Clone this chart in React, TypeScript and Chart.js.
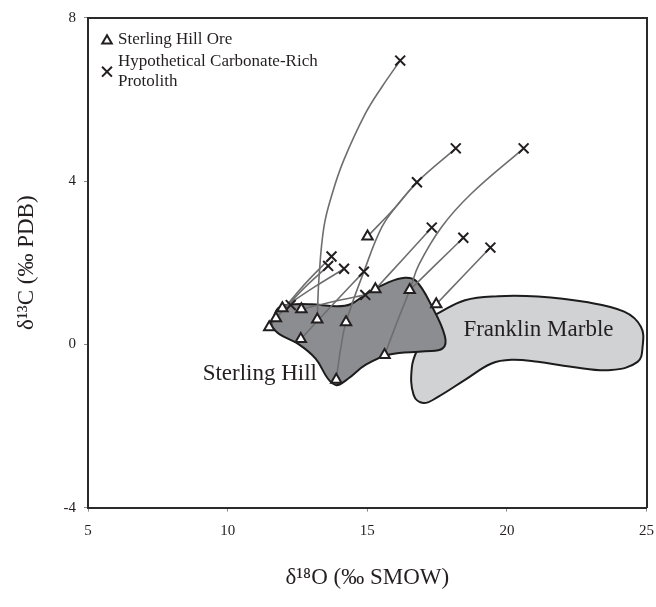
import React, { useEffect, useRef } from 'react';
import { Chart, registerables } from 'chart.js';

Chart.register(...registerables);

// ---- axis ticks ----
const xTickValues = [5, 10, 15, 20, 25];
const yTickValues = [-4, 0, 4, 8];

// ---- Sterling Hill ore (triangles) ----
const oreX = [11.49, 11.73, 11.96, 12.64, 12.62, 13.21, 14.24, 13.89, 15.29, 16.52, 15.62, 17.47, 15.01];
const oreY = [0.42, 0.64, 0.88, 0.86, 0.13, 0.61, 0.54, -0.87, 1.35, 1.33, -0.26, 0.98, 2.64];

// ---- Hypothetical carbonate-rich protolith (crosses) ----
const protolithX = [16.18, 18.17, 20.6, 16.78, 17.31, 18.44, 19.41, 13.72, 13.6, 14.17, 14.88, 14.93, 12.26];
const protolithY = [6.95, 4.8, 4.8, 3.97, 2.86, 2.61, 2.37, 2.15, 1.92, 1.85, 1.78, 1.21, 0.96];

// ---- mixing / alteration curves (ore -> protolith) ----
const curveA = [[13.21, 0.61], [13.27, 1.6], [13.45, 2.88], [13.75, 3.7], [14.16, 4.51], [14.94, 5.66], [15.53, 6.31], [16.18, 6.95]];
const curveB = [[15.01, 2.64], [16.0, 3.35], [16.78, 3.97], [18.17, 4.8]];
const curveC = [[13.89, -0.87], [14.05, -0.1], [14.24, 0.54], [14.88, 1.78], [15.53, 2.88], [16.12, 3.45], [16.78, 3.97]];
const curveD = [[15.62, -0.26], [16.1, 0.6], [16.52, 1.33], [16.85, 1.95], [17.67, 2.88], [18.74, 3.7], [20.6, 4.8]];
const curveE = [[16.52, 1.33], [17.45, 1.95], [18.44, 2.61]];
const curveF = [[17.47, 0.98], [18.4, 1.65], [19.41, 2.37]];
const curveG = [[15.29, 1.35], [16.3, 2.1], [17.31, 2.86]];
const curveH = [[11.49, 0.42], [12.6, 1.35], [13.72, 2.15]];
const curveI = [[11.73, 0.64], [12.7, 1.35], [13.6, 1.92]];
const curveJ = [[11.96, 0.88], [13.1, 1.4], [14.17, 1.85]];
const curveK = [[12.62, 0.13], [13.8, 1.0], [14.88, 1.78]];
const curveL = [[12.64, 0.86], [13.8, 1.05], [14.93, 1.21]];
const curves = [curveA, curveB, curveC, curveD, curveE, curveF, curveG, curveH, curveI, curveJ, curveK, curveL];

// ---- field outlines ----
const sterlingHillOutline = [
  [11.55, 0.45], [11.8, 0.88], [12.2, 0.97], [13.0, 0.98], [13.9, 0.93], [14.4, 0.98], [15.0, 1.25],
  [15.7, 1.5], [16.35, 1.63], [16.75, 1.55], [17.3, 0.95], [17.78, 0.2], [17.7, -0.1], [17.07, -0.17],
  [15.8, -0.25], [14.95, -0.5], [14.3, -0.85], [13.9, -1.0], [13.6, -0.85], [13.15, -0.35],
  [12.55, 0.0], [11.85, 0.25], [11.55, 0.45],
];
const franklinMarbleOutline = [
  [17.43, 0.72], [18.5, 1.08], [19.69, 1.18], [21.11, 1.17], [22.78, 1.04], [24.2, 0.8], [24.8, 0.43],
  [24.86, -0.06], [24.68, -0.43], [23.73, -0.63], [22.3, -0.55], [21.11, -0.43], [20.16, -0.38],
  [19.45, -0.47], [18.5, -0.87], [17.55, -1.28], [17.01, -1.44], [16.66, -1.24], [16.6, -0.55],
  [16.84, -0.06], [17.31, 0.6], [17.43, 0.72],
];

// ---- text annotations (data coordinates) ----
const sterlingHillLabel = { text: 'Sterling Hill', x: 13.2, y: -0.72 };
const franklinMarbleLabel = { text: 'Franklin Marble', x: 21.13, y: 0.35 };
const legendOre = 'Sterling Hill Ore';
const legendProtolithLines = ['Hypothetical Carbonate-Rich', 'Protolith'];

const INK = '#231f20';
const SERIF = "'Liberation Serif', 'Times New Roman', serif";

const toPoints = (arr: number[][]) => arr.map(([x, y]) => ({ x, y }));

function drawTriangle(ctx: CanvasRenderingContext2D, x: number, y: number, r: number) {
  ctx.beginPath();
  ctx.moveTo(x, y - r);
  ctx.lineTo(x + r * 0.866, y + r * 0.5);
  ctx.lineTo(x - r * 0.866, y + r * 0.5);
  ctx.closePath();
  ctx.fillStyle = '#fff';
  ctx.fill();
  ctx.stroke();
}
function drawCross(ctx: CanvasRenderingContext2D, x: number, y: number, r: number) {
  const d = r * 0.707;
  ctx.beginPath();
  ctx.moveTo(x - d, y - d);
  ctx.lineTo(x + d, y + d);
  ctx.moveTo(x + d, y - d);
  ctx.lineTo(x - d, y + d);
  ctx.stroke();
}

const annotationPlugin = {
  id: 'annotations',
  afterDatasetsDraw(chart: any) {
    const { ctx, chartArea, scales } = chart;
    ctx.save();
    ctx.fillStyle = INK;
    ctx.font = `23px ${SERIF}`;
    ctx.textBaseline = 'middle';
    ctx.textAlign = 'right';
    ctx.fillText(sterlingHillLabel.text, scales.x.getPixelForValue(sterlingHillLabel.x), scales.y.getPixelForValue(sterlingHillLabel.y));
    ctx.textAlign = 'center';
    ctx.fillText(franklinMarbleLabel.text, scales.x.getPixelForValue(franklinMarbleLabel.x), scales.y.getPixelForValue(franklinMarbleLabel.y));

    // legend
    const lx = chartArea.left + 19;
    const ly = chartArea.top + 22;
    ctx.strokeStyle = INK;
    ctx.lineWidth = 2;
    drawTriangle(ctx, lx, ly + 1, 5.5);
    drawCross(ctx, lx, ly + 32, 7);
    ctx.fillStyle = INK;
    ctx.font = `17px ${SERIF}`;
    ctx.textAlign = 'left';
    ctx.fillText(legendOre, lx + 11, ly);
    ctx.fillText(legendProtolithLines[0], lx + 11, ly + 21.5);
    ctx.fillText(legendProtolithLines[1], lx + 11, ly + 41.5);
    ctx.restore();
  },
};

export default function App() {
  const ref = useRef<HTMLCanvasElement>(null);
  useEffect(() => {
    const curveSets = curves.map((c, i) => ({
      label: 'curve' + i,
      data: toPoints(c),
      showLine: true,
      borderColor: '#6e6e6e',
      borderWidth: 1.6,
      pointRadius: 0,
      tension: 0.4,
      fill: false,
      order: 3,
    }));
    const chart = new Chart(ref.current as HTMLCanvasElement, {
      type: 'scatter',
      data: {
        datasets: [
          {
            label: 'Sterling Hill Ore',
            data: oreX.map((x, i) => ({ x, y: oreY[i] })),
            pointStyle: 'triangle',
            pointRadius: 6,
            pointBorderWidth: 2,
            pointBorderColor: INK,
            pointBackgroundColor: '#ffffff',
            showLine: false,
            order: 0,
          },
          {
            label: 'Hypothetical Carbonate-Rich Protolith',
            data: protolithX.map((x, i) => ({ x, y: protolithY[i] })),
            pointStyle: 'crossRot',
            pointRadius: 7,
            pointBorderWidth: 2,
            pointBorderColor: INK,
            showLine: false,
            order: 1,
          },
          ...curveSets,
          {
            label: 'Sterling Hill',
            data: toPoints(sterlingHillOutline),
            showLine: true,
            borderColor: '#1c1c1c',
            borderWidth: 2,
            backgroundColor: '#8c8d91',
            fill: 'shape',
            tension: 0.4,
            pointRadius: 0,
            order: 5,
          },
          {
            label: 'Franklin Marble',
            data: toPoints(franklinMarbleOutline),
            showLine: true,
            borderColor: '#1c1c1c',
            borderWidth: 2,
            backgroundColor: '#d1d2d4',
            fill: 'shape',
            tension: 0.4,
            pointRadius: 0,
            order: 6,
          },
        ] as any,
      },
      options: {
        animation: false,
        responsive: false,
        devicePixelRatio: 1,
        events: [],
        layout: { padding: { left: 0, right: 15, top: 17.7, bottom: 0 } },
        plugins: { legend: { display: false }, tooltip: { enabled: false } },
        scales: {
          x: {
            type: 'linear',
            position: 'bottom',
            min: 5,
            max: 25,
            afterBuildTicks: (s: any) => { s.ticks = xTickValues.map((v) => ({ value: v })); },
            afterFit: (s: any) => { s.height = 99.4; },
            grid: { display: true, drawOnChartArea: false, drawTicks: true, tickLength: 4, color: '#8a8a8a', lineWidth: 1 },
            border: { display: true, color: '#2a2a2a', width: 2 },
            ticks: { font: { family: SERIF, size: 15 }, color: INK, padding: 10, maxRotation: 0 },
            title: { display: true, text: 'δ¹⁸O (‰ SMOW)', font: { family: SERIF, size: 23 }, color: INK, padding: { top: 0, bottom: 15 } },
          },
          y: {
            type: 'linear',
            position: 'left',
            min: -4,
            max: 8,
            afterBuildTicks: (s: any) => { s.ticks = yTickValues.map((v) => ({ value: v })); },
            afterFit: (s: any) => { s.width = 88; },
            grid: { display: true, drawOnChartArea: false, drawTicks: true, tickLength: 4, color: '#8a8a8a', lineWidth: 1 },
            border: { display: true, color: '#2a2a2a', width: 2 },
            ticks: { font: { family: SERIF, size: 15 }, color: INK, padding: 8 },
            title: { display: true, text: 'δ¹³C (‰ PDB)', font: { family: SERIF, size: 23 }, color: INK, padding: { top: 13, bottom: 0 } },
          },
          x2: {
            type: 'linear',
            position: 'top',
            min: 5,
            max: 25,
            afterFit: (s: any) => { s.height = 0; },
            grid: { display: false, drawTicks: false },
            border: { display: true, color: '#2a2a2a', width: 2 },
            ticks: { display: false },
          },
          y2: {
            type: 'linear',
            position: 'right',
            min: -4,
            max: 8,
            afterFit: (s: any) => { s.width = 0; },
            grid: { display: false, drawTicks: false },
            border: { display: true, color: '#2a2a2a', width: 2 },
            ticks: { display: false },
          },
        },
      } as any,
      plugins: [annotationPlugin],
    });
    return () => chart.destroy();
  }, []);
  return (
    <div style={{ position: 'fixed', left: 0, top: 0, width: 656, height: 607, overflow: 'hidden', background: '#fff' }}>
      <div style={{ width: 664, height: 607 }}>
        <canvas ref={ref} width={664} height={607} style={{ display: 'block', width: 664, height: 607 }} />
      </div>
    </div>
  );
}
